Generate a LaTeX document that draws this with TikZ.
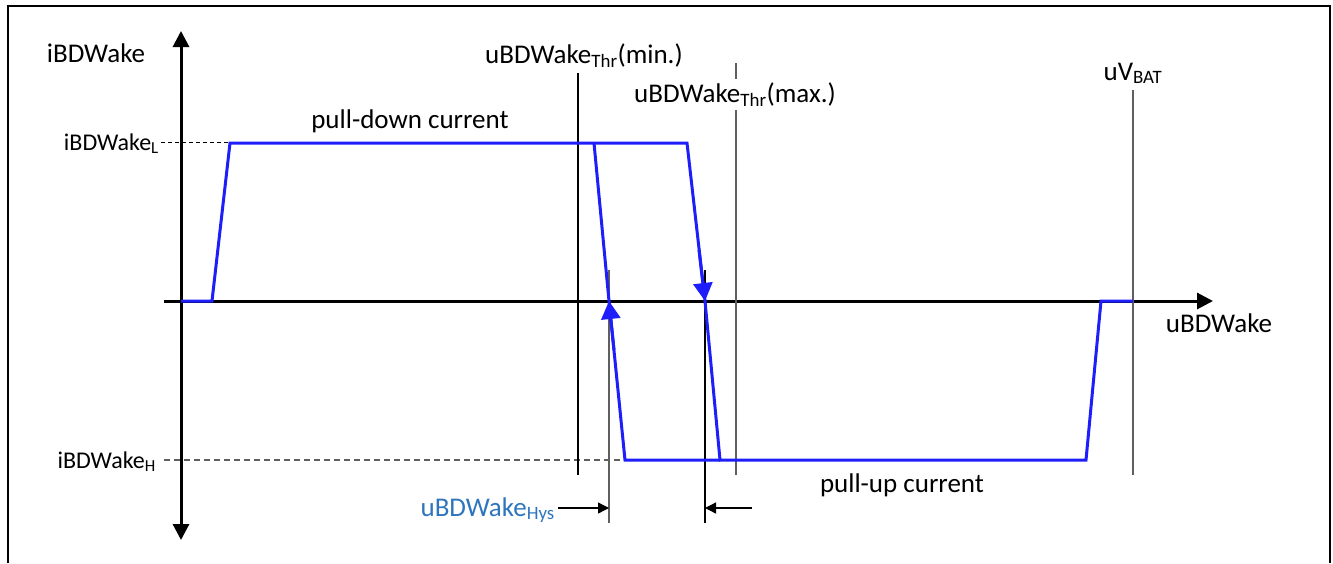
\documentclass[tikz,border=0pt]{standalone}
\usepackage{fontspec}
\setmainfont{Carlito}
\usetikzlibrary{arrows.meta}
\definecolor{curveblue}{RGB}{30,30,250}
\definecolor{hysblue}{RGB}{46,117,190}
\definecolor{linegray}{RGB}{95,95,95}

\begin{document}
\begin{tikzpicture}[x=1pt,y=-1pt,
  axis/.style={line width=3pt},
  curve/.style={curveblue, line width=3pt, line join=miter},
  marker/.style={line width=1.1pt},
  lbl/.style={inner sep=0pt, font=\fontsize{27}{32}\selectfont},
  smalllbl/.style={inner sep=0pt, font=\fontsize{24}{28}\selectfont}]

\useasboundingbox (0,0) rectangle (1333,563) ;
\draw [line width=2pt] (8,563) -- (8,6) -- (1330,6) -- (1330,563) ;

% axes
\coordinate (ytop) at (181,31) ;
\coordinate (ybot) at (181,540) ;
\coordinate (xleft) at (164,301) ;
\coordinate (xright) at (1213,301) ;
\draw [axis, {Triangle[width=16pt,length=16pt]}-{Triangle[width=16pt,length=16pt]}] (ybot) -- (ytop) ;
\draw [axis, -{Triangle[width=16pt,length=16pt]}] (xleft) -- (xright) ;
\node (ylabel) at (96,62) [lbl, anchor=base] {iBDWake} ;
\node (xlabel) at (1219,332) [lbl, anchor=base] {uBDWake} ;

% current levels
\node (iL) at (159,150) [smalllbl, anchor=base east] {iBDWake\textsubscript{L}} ;
\node (iH) at (156,468) [smalllbl, anchor=base east] {iBDWake\textsubscript{H}} ;
\draw [dashed, line width=1pt, dash pattern=on 4pt off 3pt] (161,142) -- (230,142) ;
\draw [linegray, line width=1.3pt, dash pattern=on 6pt off 4pt] (164,460) -- (625,460) ;

% threshold lines
\draw [marker] (578,73) -- (578,475) ;
\draw [marker, linegray] (736,63) -- (736,475) ;
\draw [marker, linegray] (1133,90) -- (1133,475) ;
\draw [marker, linegray] (609,270) -- (609,523) ;
\draw [marker] (705,270) -- (705,523) ;
\node (thrmin) at (584,63) [lbl, anchor=base] {uBDWake\textsubscript{Thr}(min.)} ;
\node (thrmax) at (735,102) [lbl, anchor=base, fill=white, inner ysep=3pt] {uBDWake\textsubscript{Thr}(max.)} ;
\node (vbat) at (1133,80) [lbl, anchor=base] {uV\textsubscript{BAT}} ;

% characteristic
\draw [curve] (181,301) -- (212,301) -- (230,143) -- (687,143) -- (705,301) -- (720,460)
  -- (1086,460) -- (1101,301) -- (1133,301) ;
\draw [curve] (594,143) -- (609,301) -- (625,460) -- (720,460) ;
\draw [curve, -{Triangle[width=19pt,length=18pt]}] (699,250) -- (705,301) ;
\draw [curve, -{Triangle[width=19pt,length=18pt]}] (614,350) -- (609,301) ;
\node (pulldown) at (410,128) [lbl, anchor=base] {pull-down current} ;
\node (pullup) at (902,492) [lbl, anchor=base] {pull-up current} ;

% hysteresis
\draw [line width=1.3pt, -{Triangle[width=11pt,length=11pt]}] (558,508) -- (609,508) ;
\draw [line width=1.3pt, -{Triangle[width=11pt,length=11pt]}] (752,508) -- (705,508) ;
\node (hys) at (555,516) [lbl, anchor=base east, text=hysblue] {uBDWake\textsubscript{Hys}} ;
\end{tikzpicture}
\end{document}
